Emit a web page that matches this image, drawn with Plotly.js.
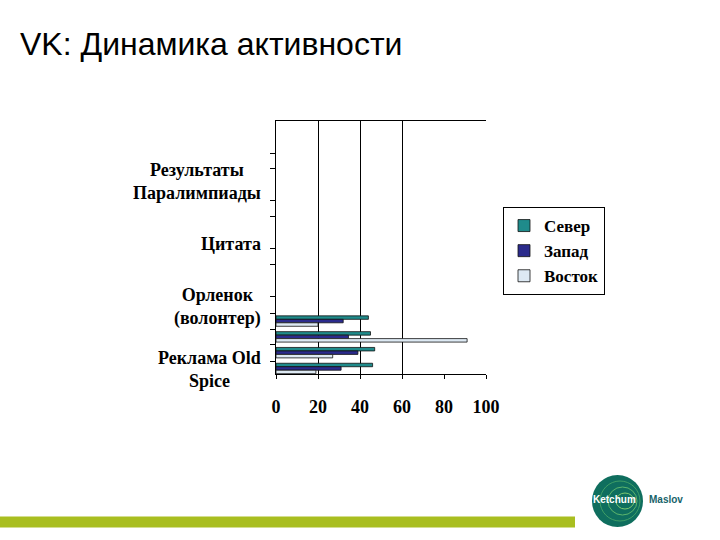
<!DOCTYPE html>
<html>
<head>
<meta charset="utf-8">
<script src="https://cdn.plot.ly/plotly-3.0.1.min.js"></script>
<style>html,body{margin:0;padding:0;background:#fff;}#chart{width:720px;height:540px;}</style>
</head>
<body>
<div id="chart"></div>
<script>
// ---- data ----
const categories = ['Результаты Паралимпиады', 'Цитата', 'Орленок (волонтер)', 'Реклама Old Spice'];
const categoryLabels = ['Результаты<br>Паралимпиады', 'Цитата', 'Орленок<br>(волонтер)', 'Реклама Old<br>Spice'];
const seriesNames = ['Север', 'Запад', 'Восток'];
const sever = [44, 45, 47, 46];
const zapad = [32, 34.5, 39, 31];
const vostok = [20, 91, 27, 19];
const xTickVals = [0, 20, 40, 60, 80, 100];
const gridVals = [20, 40, 60, 100];
const chartTitle = 'VK: Динамика активности';

// ---- styling ----
const colors = ['#1f8b8b', '#2b2b8c', '#dde9f3'];
const serif = 'Liberation Serif, Times New Roman, serif';
const W = 720, H = 540;
const px = (x) => x / W, py = (y) => 1 - y / H;
const plotL = 276, plotR = 486, plotT = 121, plotB = 374;
const yTickFracs = [0.049, 0.115, 0.174, 0.240, 0.306, 0.431, 0.497, 0.622, 0.684, 0.813, 0.872];

const values = [sever, zapad, vostok];
const traces = values.map((v, i) => ({
  type: 'bar', orientation: 'h', name: seriesNames[i],
  x: v, y: categories, xaxis: 'x', yaxis: 'y',
  marker: {color: colors[i], line: {color: '#111', width: 0.8}},
  hoverinfo: 'x+name'
}));
// helper traces so overlay axes are built
traces.push({type: 'scatter', mode: 'markers', x: categories.map(() => 0), y: categories,
  xaxis: 'x', yaxis: 'y3', marker: {opacity: 0}, showlegend: false, hoverinfo: 'skip'});
traces.push({type: 'scatter', mode: 'markers', x: [0], y: [0],
  xaxis: 'x', yaxis: 'y4', marker: {opacity: 0}, showlegend: false, hoverinfo: 'skip'});
traces.push({type: 'scatter', mode: 'markers', x: [0], y: [categories[0]],
  xaxis: 'x2', yaxis: 'y', marker: {opacity: 0}, showlegend: false, hoverinfo: 'skip'});

const annotations = categories.map((c, i) => ({
  xref: 'paper', yref: 'y3', x: px(263), y: c, xanchor: 'right', yanchor: 'middle',
  text: categoryLabels[i], showarrow: false, align: 'center',
  font: {family: serif, size: 18, color: '#000', weight: 'bold'}
}));
annotations.push({
  xref: 'paper', yref: 'paper', x: px(18), y: py(44), xanchor: 'left', yanchor: 'middle',
  text: chartTitle, showarrow: false,
  font: {family: 'Liberation Sans, Arial, sans-serif', size: 32, color: '#000'}
});
annotations.push({
  xref: 'paper', yref: 'paper', x: px(614), y: py(499), xanchor: 'center', yanchor: 'middle',
  text: 'Ketchum', showarrow: false,
  font: {family: 'Liberation Sans, Arial, sans-serif', size: 10, color: '#fff', weight: 'bold'}
});
annotations.push({
  xref: 'paper', yref: 'paper', x: px(666), y: py(499), xanchor: 'center', yanchor: 'middle',
  text: 'Maslov', showarrow: false,
  font: {family: 'Liberation Sans, Arial, sans-serif', size: 10, color: '#17636a', weight: 'bold'}
});

const shapes = [
  {type: 'rect', xref: 'paper', yref: 'paper', x0: 0, x1: px(575), y0: py(527.5), y1: py(516.5),
   fillcolor: '#a9be20', line: {width: 0}},
  {type: 'circle', xref: 'paper', yref: 'paper', x0: px(592), x1: px(643), y0: py(527), y1: py(475),
   fillcolor: '#0f6e5e', line: {width: 0}},
  {type: 'circle', xref: 'paper', yref: 'paper', x0: px(600), x1: px(640), y0: py(521), y1: py(481),
   fillcolor: 'rgba(0,0,0,0)', line: {color: '#3f9e66', width: 1}},
  {type: 'circle', xref: 'paper', yref: 'paper', x0: px(608), x1: px(637), y0: py(515), y1: py(487),
   fillcolor: 'rgba(0,0,0,0)', line: {color: '#5cb56c', width: 1}},
  {type: 'circle', xref: 'paper', yref: 'paper', x0: px(616), x1: px(634), y0: py(509), y1: py(493),
   fillcolor: 'rgba(0,0,0,0)', line: {color: '#7cc870', width: 1}}
];

const dx = [px(plotL), px(plotR)];
const dy = [py(plotB), py(plotT)];
const layout = {
  width: W, height: H,
  margin: {l: 0, r: 0, t: 0, b: 0},
  paper_bgcolor: '#fff', plot_bgcolor: 'rgba(0,0,0,0)',
  barmode: 'group', bargap: 0.34, bargroupgap: 0,
  showlegend: true,
  legend: {x: px(503), y: py(207), xanchor: 'left', yanchor: 'top',
    bordercolor: '#000', borderwidth: 1, bgcolor: '#fff',
    font: {family: serif, size: 17, color: '#000', weight: 'bold'}},
  xaxis: {domain: dx, range: [0, 100], anchor: 'y', tickmode: 'array', tickvals: xTickVals,
    ticks: 'outside', ticklen: 4, tickcolor: '#000', showline: true, linecolor: '#000', linewidth: 1,
    showgrid: false, zeroline: false, fixedrange: true, ticklabelstandoff: 12,
    tickfont: {family: serif, size: 18, color: '#000', weight: 'bold'}},
  xaxis2: {overlaying: 'x', anchor: 'y', side: 'top', range: [0, 100], tickmode: 'array', tickvals: gridVals,
    showgrid: true, gridcolor: '#000', gridwidth: 1, showticklabels: false, ticks: '',
    showline: true, linecolor: '#000', linewidth: 1, zeroline: false},
  yaxis: {domain: dy, anchor: 'x', type: 'category', categoryorder: 'array', categoryarray: categories,
    range: [3.35, -12.66], showticklabels: false, ticks: '', showgrid: false, showline: false, zeroline: false},
  yaxis3: {overlaying: 'y', anchor: 'x', type: 'category', categoryorder: 'array', categoryarray: categories,
    range: [3.064, -0.957], showticklabels: false, ticks: '', showgrid: false, showline: false, zeroline: false},
  yaxis4: {overlaying: 'y', anchor: 'x', side: 'left', range: [0, 1], tickmode: 'array', tickvals: yTickFracs,
    showticklabels: false, ticks: 'outside', ticklen: 5, tickcolor: '#000', showgrid: false,
    showline: true, linecolor: '#000', linewidth: 1, zeroline: false},
  annotations: annotations,
  shapes: shapes
};

Plotly.newPlot('chart', traces, layout, {displayModeBar: false, staticPlot: true});
</script>
</body>
</html>
